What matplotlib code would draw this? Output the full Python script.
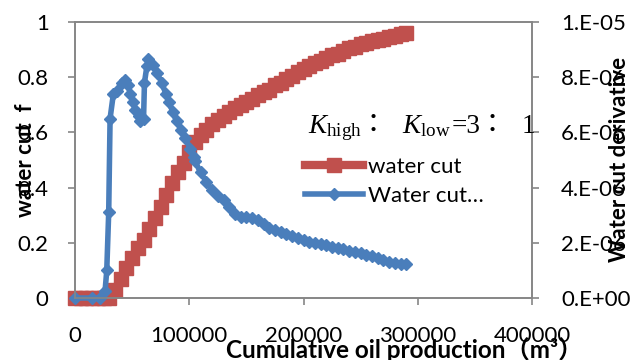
import matplotlib
matplotlib.use('Agg')
import matplotlib.pyplot as plt
import numpy as np

plt.rcParams['font.family'] = ['Lato', 'Noto Sans CJK SC', 'DejaVu Sans']
plt.rcParams['mathtext.fontset'] = 'custom'
plt.rcParams['mathtext.rm'] = 'Liberation Serif'
plt.rcParams['mathtext.it'] = 'Liberation Serif:italic'

# water cut (left axis)
red_x = [0, 5000, 10000, 15000, 20000, 25000, 30000, 35000, 40000, 45000, 50000,
         55000, 60000, 65000, 70000, 75000, 80000, 85000, 90000, 95000, 100000,
         105000, 110000, 115000, 120000, 125000, 130000, 135000, 140000, 145000,
         150000, 155000, 160000, 165000, 170000, 175000, 180000, 185000, 190000,
         195000, 200000, 205000, 210000, 215000, 220000, 225000, 230000, 235000,
         240000, 245000, 250000, 255000, 260000, 265000, 270000, 275000, 280000,
         285000, 290000]
water_cut = [0, 0, 0, 0, 0, 0, 0, 0.03, 0.07, 0.11, 0.145,
             0.18, 0.21, 0.25, 0.29, 0.33, 0.375, 0.415, 0.455, 0.49, 0.53,
             0.565, 0.59, 0.61, 0.63, 0.645, 0.66, 0.675, 0.69, 0.70,
             0.71, 0.72, 0.735, 0.745, 0.755, 0.77, 0.78, 0.795, 0.805,
             0.82, 0.83, 0.84, 0.85, 0.86, 0.87, 0.88, 0.885, 0.895,
             0.905, 0.91, 0.92, 0.925, 0.93, 0.935, 0.94, 0.945, 0.95,
             0.955, 0.96]

# water cut derivative (right axis), in units of 1e-6
blue_x = [0, 14600, 21900, 26300, 27800, 29500, 30700, 33600, 36500, 41000,
          43900, 46800, 48200, 51200, 52600, 55600, 57000, 60000, 60800, 62900,
          64300, 68700, 71600, 76000, 79500, 82500, 85400, 89200, 93000, 96500,
          100900, 103800, 105000, 110000, 115000, 120000, 125000, 130000, 135000,
          140000, 145000, 150000, 155000, 160000, 165000, 170000, 175000, 180000,
          185000, 190000, 195000, 200000, 205000, 210000, 215000, 220000, 225000,
          230000, 235000, 240000, 245000, 250000, 255000, 260000, 265000, 270000,
          275000, 280000, 285000, 290000]
deriv_e6 = [0, 0, 0, 0.24, 1.0, 3.1, 6.5, 7.4, 7.5, 7.8,
            7.9, 7.7, 7.4, 7.1, 6.8, 6.6, 6.4, 6.5, 7.8, 8.4,
            8.65, 8.45, 8.15, 7.8, 7.4, 7.1, 6.75, 6.4, 6.1, 5.8,
            5.4, 5.1, 4.95, 4.55, 4.2, 3.9, 3.7, 3.55, 3.3,
            3.05, 2.95, 2.93, 2.9, 2.82, 2.68, 2.55, 2.47, 2.4,
            2.33, 2.25, 2.18, 2.1, 2.03, 2.0, 1.97, 1.93, 1.86,
            1.8, 1.76, 1.72, 1.67, 1.62, 1.57, 1.52, 1.45, 1.38,
            1.32, 1.28, 1.23, 1.25]

x_ticks = [0, 100000, 200000, 300000, 400000]
left_ticks = [0, 0.2, 0.4, 0.6, 0.8, 1]
left_labels = ['0', '0.2', '0.4', '0.6', '0.8', '1']
right_ticks = [0, 2e-6, 4e-6, 6e-6, 8e-6, 1e-5]
right_labels = ['0.E+00', '2.E-06', '4.E-06', '6.E-06', '8.E-06', '1.E-05']

W, H = 631, 360
fig = plt.figure(figsize=(W / 100, H / 100), dpi=100)
ax = fig.add_axes([75 / W, 62 / H, 457 / W, 276 / H])
ax2 = ax.twinx()

red_line, = ax.plot(red_x, water_cut, color='#C0504D', lw=6, marker='s', ms=9.5,
                    mec='#C0504D', clip_on=False, label='water cut')
blue_line, = ax2.plot(blue_x, np.array(deriv_e6) * 1e-6, color='#4A7EBB', lw=4,
                      marker='D', ms=6.5, mec='#4A7EBB', clip_on=False, label='Water cut…')

grey = '#868686'
ax.set_xlim(0, 400000)
ax.set_ylim(0, 1)
ax2.set_ylim(0, 1e-5)
ax.set_xticks(x_ticks)
ax.set_xticklabels([str(t) for t in x_ticks])
ax.set_yticks(left_ticks)
ax.set_yticklabels(left_labels)
ax2.set_yticks(right_ticks)
ax2.set_yticklabels(right_labels)

for a in (ax, ax2):
    for s in a.spines.values():
        s.set_color(grey)
        s.set_linewidth(1.2)
ax.tick_params(axis='x', direction='out', length=5, width=1.2, color=grey, pad=15, labelsize=16)
ax.tick_params(axis='y', direction='out', length=5, width=1.2, color=grey, pad=14, labelsize=16)
ax2.tick_params(axis='y', direction='out', length=5, width=1.2, color=grey, pad=16, labelsize=16)

# axis titles
fig.text(26 / W, 1 - 160 / H, 'water cut  f', rotation=90, ha='center', va='center',
         fontsize=16, fontweight='bold')
fig.text(620 / W, 1 - 159 / H, 'Water cut derivative', rotation=90, ha='center', va='center',
         fontsize=16, fontweight='bold')
fig.text(404 / W, 1 - 350 / H, 'Cumulative oil production（m³）', ha='center', va='center',
         fontsize=17.5, fontweight='bold')

# permeability ratio note, pieced together so the full-width colons get a CJK font
base = 1 - 133 / H
note = dict(va='baseline', fontsize=19.5)
fig.text(308 / W, base, r'$K_{\mathrm{high}}$', ha='left', **note)
fig.text(373 / W, base, '：', ha='center', family='Noto Sans CJK JP', **note)
fig.text(402 / W, base, r'$K_{\mathrm{low}}$', ha='left', **note)
fig.text(452 / W, base, '=3', ha='left', family='Liberation Serif', **note)
fig.text(492 / W, base, '：', ha='center', family='Noto Sans CJK JP', **note)
fig.text(522 / W, base, '1', ha='left', family='Liberation Serif', **note)

ax2.legend([red_line, blue_line], ['water cut', 'Water cut…'], loc='upper left',
           bbox_to_anchor=(305 / W, 1 - 157 / H), bbox_transform=fig.transFigure,
           frameon=False, handlelength=2.6, handletextpad=0.25, borderpad=0,
           borderaxespad=0, labelspacing=0.4, fontsize=16)

fig.savefig('out.png', dpi=100)
